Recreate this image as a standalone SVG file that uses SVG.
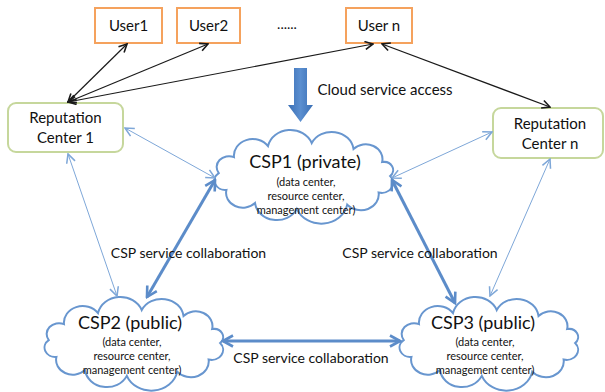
<svg xmlns="http://www.w3.org/2000/svg" width="605" height="392" viewBox="0 0 605 392">
<style>
text{font-family:Lato,"Open Sans","Liberation Sans",sans-serif;fill:#111;text-anchor:middle}
.user{fill:#fff;stroke:#f5a25d;stroke-width:2}
.rep{fill:#fff;stroke:#c6d79c;stroke-width:2}
.cloud{fill:#fff;stroke:#6896cf;stroke-width:2}
.blk{stroke:#1a1a1a;stroke-width:1.2;fill:none;marker-start:url(#hb);marker-end:url(#hb)}
.thin{stroke:#7ea7d8;stroke-width:1;fill:none;marker-start:url(#ht);marker-end:url(#ht)}
.thick{stroke:#5c8cc9;stroke-width:3;fill:none;marker-start:url(#hk);marker-end:url(#hk)}
.t15{font-size:15px}
.t18{font-size:18px}
.t11{font-size:11px}
.t14{font-size:14px}
</style>
<defs>
<marker id="hb" viewBox="0 0 10 10" refX="9" refY="5" markerWidth="10" markerHeight="10" markerUnits="userSpaceOnUse" orient="auto-start-reverse"><path d="M1,1 L9,5 L1,9" fill="none" stroke="#1a1a1a" stroke-width="1.6"/></marker>
<marker id="ht" viewBox="0 0 10 10" refX="9" refY="5" markerWidth="11" markerHeight="11" markerUnits="userSpaceOnUse" orient="auto-start-reverse"><path d="M1,1 L9,5 L1,9" fill="none" stroke="#7ea7d8" stroke-width="1.4"/></marker>
<marker id="hk" viewBox="0 0 14 14" refX="12" refY="7" markerWidth="14" markerHeight="14" markerUnits="userSpaceOnUse" orient="auto-start-reverse"><path d="M2,1.5 L12,7 L2,12.5" fill="none" stroke="#5c8cc9" stroke-width="2.6"/></marker>
<linearGradient id="ag" x1="0" y1="0" x2="1" y2="0"><stop offset="0" stop-color="#3a6fb5"/><stop offset="0.5" stop-color="#5b8fd0"/><stop offset="1" stop-color="#3a6fb5"/></linearGradient>
<path id="cloud" vector-effect="non-scaling-stroke" d="M165,48 A10.1,10.1 0 0 1 154.8,64.5 A15.8,15.8 0 0 1 127,76.6 A23.3,23.3 0 0 1 82.4,80.9 A19.5,19.5 0 0 1 45.4,75 A14.8,14.8 0 0 1 20.1,61.9 A9.4,9.4 0 0 1 13.3,45.1 A10.9,10.9 0 0 1 26.8,29.1 A16.6,16.6 0 0 1 56.9,18.1 A20.2,20.2 0 0 1 95.6,15.1 A19.5,19.5 0 0 1 132.6,21 A14.8,14.8 0 0 1 157.9,34.1 A8.1,8.1 0 0 1 165,48 Z"/>
</defs>
<rect width="605" height="392" fill="#fff"/>

<g id="user1"><rect class="user" x="95" y="8" width="67" height="35"/><text class="t15" x="128.5" y="31">User1</text></g>
<g id="user2"><rect class="user" x="177" y="8" width="63" height="35"/><text class="t15" x="208.5" y="31">User2</text></g>
<g id="dots"><text class="t14" x="287" y="29">......</text></g>
<g id="usern"><rect class="user" x="346" y="8" width="66" height="35"/><text class="t15" x="379" y="31">User n</text></g>

<g id="rep1"><rect class="rep" x="8" y="103" width="115" height="49" rx="8"/><text class="t15" x="65.5" y="123">Reputation</text><text class="t15" x="65.5" y="143">Center 1</text></g>
<g id="repn"><rect class="rep" x="493" y="108" width="110" height="50" rx="8"/><text class="t15" x="550" y="129">Reputation</text><text class="t15" x="550" y="149">Center n</text></g>

<g id="access"><path d="M294,68 H307 V105 H313 L300.5,122 L288,105 H294 Z" fill="url(#ag)"/><text class="t15" x="385" y="95">Cloud service access</text></g>

<g id="csp1"><use href="#cloud" class="cloud" transform="translate(203.7,128) scale(1.13,1)"/><text class="t18" x="305" y="168">CSP1 (private)</text><text class="t11" x="306" y="186">(data center,</text><text class="t11" x="306" y="200">resource center,</text><text class="t11" x="306" y="214">management center)</text></g>
<g id="csp2"><use href="#cloud" class="cloud" transform="translate(33.7,295) scale(1.13,1)"/><text class="t18" x="130" y="329">CSP2 (public)</text><text class="t11" x="132" y="346">(data center,</text><text class="t11" x="132" y="360">resource center,</text><text class="t11" x="132" y="374">management center)</text></g>
<g id="csp3"><use href="#cloud" class="cloud" transform="translate(388.7,295) scale(1.13,1)"/><text class="t18" x="483" y="329">CSP3 (public)</text><text class="t11" x="485" y="346">(data center,</text><text class="t11" x="485" y="360">resource center,</text><text class="t11" x="485" y="374">management center)</text></g>

<g id="connectors">
<line class="blk" x1="68" y1="102" x2="127" y2="44"/>
<line class="blk" x1="68" y1="102" x2="208" y2="44"/>
<line class="blk" x1="68" y1="102" x2="373" y2="44"/>
<line class="blk" x1="382" y1="44" x2="550" y2="107"/>
<line class="thin" x1="125" y1="128" x2="215" y2="178"/>
<line class="thin" x1="68" y1="154" x2="117" y2="296"/>
<line class="thin" x1="492" y1="132" x2="392" y2="178"/>
<line class="thin" x1="550" y1="159" x2="490" y2="296"/>
<line class="thick" x1="215" y1="180" x2="147" y2="297"/>
<line class="thick" x1="392" y1="180" x2="455" y2="303"/>
<line class="thick" x1="223" y1="341" x2="400" y2="341"/>
<text class="t14" x="188.5" y="258">CSP service collaboration</text>
<text class="t14" x="420" y="258">CSP service collaboration</text>
<text class="t14" x="311" y="363">CSP service collaboration</text>
</g>
</svg>
